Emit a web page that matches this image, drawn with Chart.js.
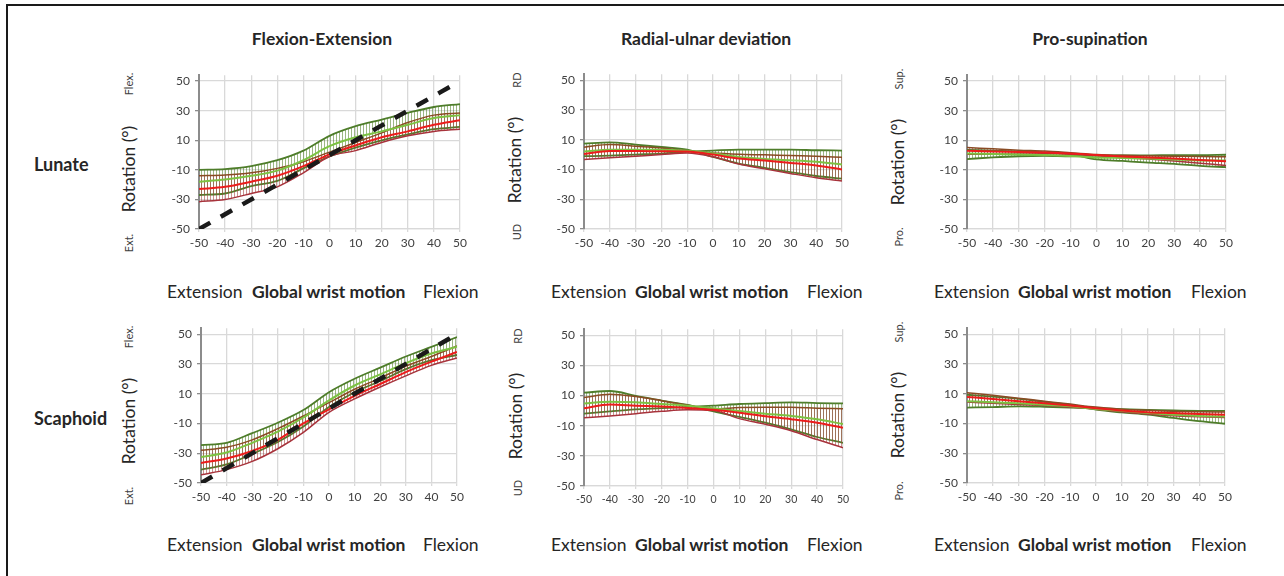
<!DOCTYPE html>
<html>
<head>
<meta charset="utf-8">
<script src="https://cdn.jsdelivr.net/npm/chart.js@4.4.1/dist/chart.umd.min.js"></script>
<style>
  body { margin: 0; width: 1284px; height: 576px; background: #fff; position: relative; overflow: hidden;
         font-family: Lato, 'Open Sans', sans-serif; color: #262626; }
  .frame { position: absolute; left: 6px; top: 4px; width: 1290px; height: 600px;
           border-left: 2px solid #1a1a1a; border-top: 2px solid #1a1a1a; }
  .t { position: absolute; white-space: nowrap; transform: translate(-50%, -50%); }
  .rot { transform: translate(-50%, -50%) rotate(-90deg); }
  .w { position: absolute; white-space: nowrap; transform: translateY(-50%); font-size: 17.5px; }
  .head { font-weight: 700; font-size: 17.5px; }
  .row { position: absolute; font-weight: 700; font-size: 18px; transform: translateY(-50%); }
  .ylab { font-size: 17.5px; }
  .ysm { font-size: 11px; color: #404040; }
  canvas { position: absolute; }
</style>
</head>
<body>
<div class="frame"></div>

<div class="t head" style="left:322px;top:38px">Flexion-Extension</div>
<div class="t head" style="left:706px;top:38px">Radial-ulnar deviation</div>
<div class="t head" style="left:1090px;top:38px">Pro-supination</div>

<div class="row" style="left:34px;top:164px">Lunate</div>
<div class="row" style="left:34px;top:418px">Scaphoid</div>

<!-- y titles -->
<div class="t rot ylab" style="left:128px;top:169px">Rotation (°)</div>
<div class="t rot ysm" style="left:128px;top:84px">Flex.</div>
<div class="t rot ysm" style="left:128px;top:243px">Ext.</div>
<div class="t rot ylab" style="left:128px;top:421px">Rotation (°)</div>
<div class="t rot ysm" style="left:128px;top:337px">Flex.</div>
<div class="t rot ysm" style="left:128px;top:496px">Ext.</div>

<div class="t rot ylab" style="left:514px;top:160px">Rotation (°)</div>
<div class="t rot ysm" style="left:516px;top:80px">RD</div>
<div class="t rot ysm" style="left:516px;top:232px">UD</div>
<div class="t rot ylab" style="left:515px;top:416px">Rotation (°)</div>
<div class="t rot ysm" style="left:517px;top:336px">RD</div>
<div class="t rot ysm" style="left:517px;top:488px">UD</div>

<div class="t rot ylab" style="left:897px;top:162px">Rotation (°)</div>
<div class="t rot ysm" style="left:898px;top:79px">Sup.</div>
<div class="t rot ysm" style="left:898px;top:237px">Pro.</div>
<div class="t rot ylab" style="left:897px;top:415px">Rotation (°)</div>
<div class="t rot ysm" style="left:898px;top:332px">Sup.</div>
<div class="t rot ysm" style="left:898px;top:491px">Pro.</div>

<!-- x titles -->
<div class="w" style="left:167px;top:291px">Extension</div>
<div class="w" style="left:252px;top:291px;font-weight:700">Global wrist motion</div>
<div class="w" style="left:423px;top:291px">Flexion</div>
<div class="w" style="left:551px;top:291px">Extension</div>
<div class="w" style="left:635px;top:291px;font-weight:700">Global wrist motion</div>
<div class="w" style="left:807px;top:291px">Flexion</div>
<div class="w" style="left:934px;top:291px">Extension</div>
<div class="w" style="left:1018px;top:291px;font-weight:700">Global wrist motion</div>
<div class="w" style="left:1191px;top:291px">Flexion</div>

<div class="w" style="left:167px;top:544px">Extension</div>
<div class="w" style="left:252px;top:544px;font-weight:700">Global wrist motion</div>
<div class="w" style="left:423px;top:544px">Flexion</div>
<div class="w" style="left:551px;top:544px">Extension</div>
<div class="w" style="left:635px;top:544px;font-weight:700">Global wrist motion</div>
<div class="w" style="left:807px;top:544px">Flexion</div>
<div class="w" style="left:934px;top:544px">Extension</div>
<div class="w" style="left:1018px;top:544px;font-weight:700">Global wrist motion</div>
<div class="w" style="left:1191px;top:544px">Flexion</div>

<script>
// global wrist angle (deg) at which values were read
const XS = [-50, -40, -30, -20, -10, 0, 10, 20, 30, 40, 50];
const X_TICKS = [-50, -40, -30, -20, -10, 0, 10, 20, 30, 40, 50];
const Y_TICKS = [-50, -30, -10, 10, 30, 50];
const IDENT_X = [-50, 50];
const IDENT_Y = [-50, 50];

// Lunate - flexion-extension
const lunFE_redMean  = [-23, -21.5, -18, -14, -7.5, 0.5, 6.5, 12, 16, 20.5, 23.5];
const lunFE_redUp    = [-14, -13.5, -12, -9, -4.5, 2, 8.5, 15, 22, 27, 28.5];
const lunFE_redLow   = [-31.5, -30, -26, -21.5, -12, -1, 3, 8.5, 13, 16, 17.5];
const lunFE_grnMean  = [-18, -16.5, -14, -10.5, -3.5, 6, 12, 16, 20.5, 25, 27];
const lunFE_grnA     = [-10, -9.5, -7.5, -3.5, 3, 13, 19.5, 24, 28.5, 32.5, 34.5];
const lunFE_grnB     = [-27, -26, -21, -17.5, -9, -1, 5, 10, 14, 17.5, 19];

// Lunate - radial-ulnar deviation
const lunRU_redMean  = [0.4, 2.4, 2.4, 2.2, 2, 0, -2.7, -4, -5.6, -7.3, -10];
const lunRU_redUp    = [5, 6.7, 5.6, 4.4, 2.5, 1, 0.2, -0.2, -0.7, -1.1, -1.8];
const lunRU_redLow   = [-3.3, -2.2, -1.1, 0, 1, -1.5, -6.4, -9.6, -12.7, -15.6, -17.8];
const lunRU_grnMean  = [2, 3.3, 3.3, 3.3, 2.5, 0.7, -1.6, -2.9, -3.8, -4.9, -6.7];
const lunRU_grnA     = [7.3, 8.2, 6.7, 5.1, 3.3, -1.5, -6, -8.9, -11.8, -14.4, -16.2];
const lunRU_grnB     = [-1.1, -0.7, 0, 0.7, 2, 2.7, 3.3, 3.3, 3.3, 2.9, 2.7];

// Lunate - pro-supination
const lunPS_redMean  = [2.9, 2.4, 2, 1.8, 1.1, 0, -0.9, -1.6, -2.4, -3.3, -4.2];
const lunPS_redUp    = [5.1, 4.2, 3.3, 2.7, 1.6, 0.4, -0.2, -0.5, -0.8, -1, -1.1];
const lunPS_redLow   = [0.5, 0.6, 0.7, 0.8, 0.6, -0.4, -1.6, -2.7, -4, -5.5, -7];
const lunPS_grnMean  = [1.1, 0.7, 0.3, 0, -0.6, -1.6, -2, -2.4, -3, -3.6, -3.6];
const lunPS_grnA     = [3.5, 3, 2.5, 1.8, 0.5, -2.9, -4, -5.1, -6, -7.3, -8.2];
const lunPS_grnB     = [-2.7, -1.6, -0.8, -0.5, -0.8, -0.3, -0.2, -0.2, 0, 0, 0.2];

// Scaphoid - flexion-extension
const scaFE_redMean  = [-36.5, -33.5, -28.5, -21, -10, -0.5, 8.5, 16.5, 24.5, 31.5, 38];
const scaFE_redUp    = [-28, -26, -21, -13.5, -5, 4, 13, 20.5, 28.5, 35, 42];
const scaFE_redLow   = [-44.5, -41, -35.5, -27, -16, -2.5, 6.5, 14.5, 22, 29, 34];
const scaFE_grnMean  = [-32.5, -29.5, -23, -15.5, -6, 5.5, 15.5, 23, 30.5, 37, 41.5];
const scaFE_grnA     = [-24.5, -23, -16.5, -9.5, -1, 11, 20, 27.5, 35, 41.5, 48];
const scaFE_grnB     = [-41, -37.5, -30.5, -22.5, -12, 1, 11, 18.5, 26.5, 32.5, 36];

// Scaphoid - radial-ulnar deviation
const scaRU_redMean  = [1.6, 4, 3.3, 2.7, 1.8, 0.5, -1.4, -3.8, -5.7, -8, -11.3];
const scaRU_redUp    = [8.7, 10.9, 9.4, 6.6, 3.5, 1, 2, 2.3, 2.3, 1.6, 1.2];
const scaRU_redLow   = [-4.8, -3.5, -2, -0.5, 0.5, 0, -5.3, -9.1, -13.4, -19.2, -24.6];
const scaRU_grnMean  = [4.8, 5.9, 5.5, 4.4, 3.3, 1.5, -0.3, -2, -3.5, -5.7, -8.9];
const scaRU_grnA     = [11.9, 13, 9.8, 6.6, 3.8, -0.5, -4.2, -8, -12.4, -17.5, -21.4];
const scaRU_grnB     = [-2, -0.5, 0.8, 1.6, 2.5, 3.3, 4.4, 5, 5.5, 5, 4.8];

// Scaphoid - pro-supination
const scaPS_redMean  = [7.8, 6.5, 5, 3.5, 2, 0.3, -1.3, -2.4, -3, -3.7, -4.1];
const scaPS_redUp    = [10.7, 9, 7, 5, 3, 1, -0.5, -1.2, -1.8, -2.1, -2.3];
const scaPS_redLow   = [4.5, 3.5, 2.8, 2, 1, -0.4, -2.2, -3.7, -4.8, -5.5, -6];
const scaPS_grnMean  = [5, 4.2, 3.5, 2.5, 1.5, -0.3, -1.5, -3, -4.1, -5, -5.4];
const scaPS_grnA     = [9.3, 8, 6.5, 4.5, 2.5, -0.7, -2.6, -4.1, -6.3, -8.5, -10.2];
const scaPS_grnB     = [0.7, 1, 1.5, 1.2, 0.7, 0.2, -0.4, -0.9, -1.3, -1.5, -1.5];

// vertical hatching, looks like the dense SD error bars
function hatch(color) {
  const c = document.createElement('canvas');
  c.width = 3; c.height = 4;
  const g = c.getContext('2d');
  g.fillStyle = color;
  g.fillRect(0, 0, 1, 4);
  return g.createPattern(c, 'repeat');
}
const redHatch = hatch('rgba(160,60,55,0.55)');
const grnHatch = hatch('rgba(90,135,50,0.6)');

const pts = (xs, ys) => xs.map((x, i) => ({ x, y: ys[i] }));

// plot-area pixel boxes (value 50 at T, -50 at B)
const panels = [
  { L: 199, R: 460, T: 77,    B: 229,   tick: 12, ident: true,
    s: [lunFE_redMean, lunFE_redUp, lunFE_redLow, lunFE_grnMean, lunFE_grnA, lunFE_grnB] },
  { L: 584, R: 842, T: 76.5,  B: 229,   tick: 12, ident: false,
    s: [lunRU_redMean, lunRU_redUp, lunRU_redLow, lunRU_grnMean, lunRU_grnA, lunRU_grnB] },
  { L: 967, R: 1226, T: 77,   B: 229,   tick: 12, ident: false,
    s: [lunPS_redMean, lunPS_redUp, lunPS_redLow, lunPS_grnMean, lunPS_grnA, lunPS_grnB] },
  { L: 201, R: 457, T: 330.5, B: 482.7, tick: 12, ident: true,
    s: [scaFE_redMean, scaFE_redUp, scaFE_redLow, scaFE_grnMean, scaFE_grnA, scaFE_grnB] },
  { L: 584, R: 843, T: 331,   B: 486,   tick: 10.5, ident: false,
    s: [scaRU_redMean, scaRU_redUp, scaRU_redLow, scaRU_grnMean, scaRU_grnA, scaRU_grnB] },
  { L: 967, R: 1225, T: 330.5, B: 482.7, tick: 12, ident: false,
    s: [scaPS_redMean, scaPS_redUp, scaPS_redLow, scaPS_grnMean, scaPS_grnA, scaPS_grnB] },
];

const YW = 40, XH = 24, PADT = 8, PADR = 14;

panels.forEach(p => {
  const top54 = Math.round(p.T - 4 * (p.B - p.T) / 100);
  const bot = Math.round(p.B);
  const cv = document.createElement('canvas');
  cv.width = p.R - p.L + YW + PADR;
  cv.height = PADT + (bot - top54) + XH;
  cv.style.left = (p.L - YW) + 'px';
  cv.style.top = (top54 - PADT) + 'px';
  document.body.appendChild(cv);

  const [rMean, rUp, rLow, gMean, gA, gB] = p.s;
  const ds = [];
  if (p.ident) {
    ds.push({ data: pts(IDENT_X, IDENT_Y), borderColor: '#1a1a1a', borderWidth: 4.5,
              borderDash: [13, 12], borderCapStyle: 'butt' });
  }
  const base = ds.length;
  ds.push({ data: pts(XS, rMean), borderColor: '#ec1c1c', borderWidth: 2 });
  ds.push({ data: pts(XS, gMean), borderColor: '#7cc242', borderWidth: 2 });
  ds.push({ data: pts(XS, rUp), borderColor: '#8a4b24', borderWidth: 1.5,
            fill: base + 3, backgroundColor: redHatch });
  ds.push({ data: pts(XS, rLow), borderColor: '#a8323c', borderWidth: 1.5 });
  ds.push({ data: pts(XS, gA), borderColor: '#4e7d2a', borderWidth: 1.8,
            fill: base + 5, backgroundColor: grnHatch });
  ds.push({ data: pts(XS, gB), borderColor: '#4e7d2a', borderWidth: 1.8 });
  ds.forEach(d => { d.pointRadius = 0; d.cubicInterpolationMode = 'monotone'; });

  new Chart(cv, {
    type: 'line',
    data: { datasets: ds },
    options: {
      responsive: false,
      animation: false,
      devicePixelRatio: 1,
      layout: { padding: { left: 0, right: PADR, top: PADT, bottom: 0 } },
      plugins: { legend: { display: false }, tooltip: { enabled: false } },
      scales: {
        x: {
          type: 'linear', min: -50, max: 50,
          afterBuildTicks: s => { s.ticks = X_TICKS.map(v => ({ value: v })); },
          afterFit: s => { s.height = XH; },
          grid: { color: '#d9d9d9', lineWidth: 1.3, tickLength: 3 },
          border: { color: '#d9d9d9', width: 1.3 },
          ticks: { color: '#404040', padding: 4, maxRotation: 0,
                   font: { family: 'Lato', size: p.tick } },
        },
        y: {
          type: 'linear', min: -50, max: 54,
          afterBuildTicks: s => { s.ticks = Y_TICKS.map(v => ({ value: v })); },
          afterFit: s => { s.width = YW; },
          grid: { color: '#d9d9d9', lineWidth: 1.3, tickLength: 4, tickColor: '#8c8c8c' },
          border: { color: '#8c8c8c', width: 2 },
          ticks: { color: '#404040', padding: 5, font: { family: 'Lato', size: 12 } },
        },
      },
    },
  });
});
</script>
</body>
</html>
